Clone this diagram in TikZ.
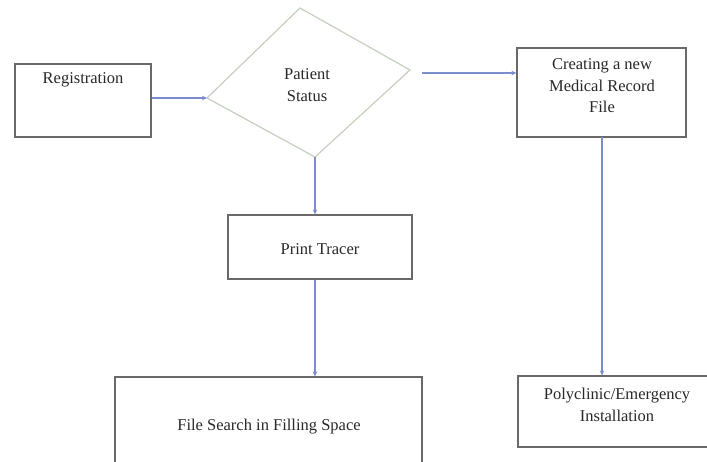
\documentclass[tikz,border=0pt]{standalone}
\usepackage{fontspec}
\setmainfont{Liberation Serif}
\usetikzlibrary{arrows.meta}
\definecolor{boxline}{RGB}{105,105,105}
\definecolor{arrowline}{RGB}{125,140,205}
\definecolor{diamline}{RGB}{196,208,190}
\definecolor{txt}{RGB}{40,40,40}
\tikzset{
  procbox/.style={draw=boxline, line width=1.2pt, minimum width=#1, inner sep=0pt},
  lbl/.style={font=\fontsize{16.5}{21.5}\selectfont, text=txt, align=center, inner sep=0pt},
  flow/.style={draw=arrowline, line width=1.1pt, -{Stealth[length=5pt,width=4.5pt]}},
}
\begin{document}
\begin{tikzpicture}[x=1pt,y=-1pt]
\useasboundingbox (0,0) rectangle (707,462);
\clip (0,0) rectangle (707,462);
% boxes
\node[procbox=136pt, minimum height=73pt] (reg) at (83,100.5) {};
\node[procbox=169pt, minimum height=89pt] (cr) at (601.5,92.5) {};
\node[procbox=184pt, minimum height=64pt] (pt) at (320,247) {};
\node[procbox=307pt, minimum height=106pt] (fs) at (268.5,430) {};
\node[procbox=198pt, minimum height=71pt] (pe) at (617,411.5) {};
% diamond
\coordinate (dt) at (300,8);
\coordinate (dr) at (410,70);
\coordinate (db) at (315,157);
\coordinate (dl) at (207,98);
\draw[draw=diamline, line width=1.2pt] (dt) -- (dr) -- (db) -- (dl) -- cycle;
% labels
\node[lbl] (regt) at (83,80) {Registration};
\node[lbl] (pst) at (307,85) {Patient\\Status};
\node[lbl] (crt) at (602,86) {Creating a new\\Medical Record\\File};
\node[lbl] (ptt) at (320,249) {Print Tracer};
\node[lbl] (fst) at (269,427) {File Search in Filling Space};
\node[lbl] (pet) at (617,405) {Polyclinic/Emergency\\Installation};
% connectors
\coordinate (a1) at (422,73);
\draw[flow] (reg.east |- dl) -- (dl);
\draw[flow] (a1) -- (cr.west |- a1);
\draw[flow] (db) -- (db |- pt.north);
\draw[flow] (db |- pt.south) -- (db |- fs.north);
\draw[flow] (602,137) coordinate (cb) -- (cb |- pe.north);
\end{tikzpicture}
\end{document}
